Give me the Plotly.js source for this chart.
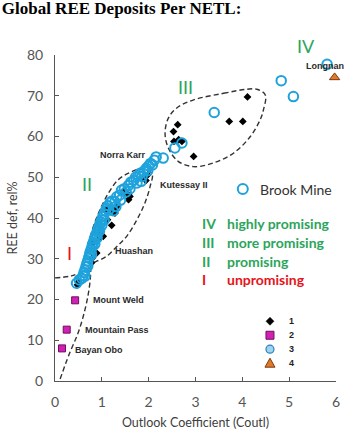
<!DOCTYPE html>
<html><head><meta charset="utf-8">
<script src="https://cdn.plot.ly/plotly-3.0.1.min.js"></script>
<style>html,body{margin:0;padding:0;background:#fff}#chart{width:351px;height:431px}</style>
</head><body><div id="chart"></div>
<script>
// ---- Data ----
const type1X = [0.48,0.50,0.78,0.80,0.89,0.82,0.92,1.03,0.98,1.21,1.12,1.28,1.10,1.25,1.14,1.32,1.57,1.60,1.57,1.50,1.89,1.94,1.98,
                2.62,2.53,2.64,2.54,2.71,2.96,3.72,4.01,4.11];
const type1Y = [23.6,24.3,29.0,30.2,31.4,33.9,34.6,35.5,37.0,38.2,39.6,41.2,41.6,41.8,42.5,42.8,44.5,45.3,45.7,46.6,49.8,49.2,50.6,
                62.9,61.2,59.2,58.8,58.8,55.1,63.7,63.7,69.7];

const type2X = [0.15,0.25,0.43];
const type2Y = [8.0,12.6,19.8];

const type3X = [0.46,0.52,0.57,0.60,0.62,0.64,0.66,0.68,0.70,0.72,0.74,0.75,0.77,0.79,0.80,0.82,0.84,0.86,0.88,0.90,
                0.92,0.94,0.96,0.98,1.00,1.02,1.05,1.08,1.10,1.13,0.85,0.90,0.95,1.00,0.78,0.70,1.05,1.15,1.18,1.22,
                1.28,1.32,1.38,1.42,1.48,1.52,1.57,1.62,1.68,1.72,1.78,1.82,1.86,1.90,1.95,2.00,2.04,2.08,2.12,2.16,
                2.31,1.24,1.30,1.40,1.60,1.75,1.84,1.98,0.64,
                2.56,2.71,3.40,4.83,5.09,5.81];
const type3Y = [24.0,24.8,25.2,25.8,26.6,27.2,28.0,28.8,29.5,30.3,31.0,31.6,32.2,32.8,33.5,34.0,34.8,35.4,36.0,36.6,
                37.2,37.9,38.5,39.0,39.6,40.3,41.0,41.8,42.4,43.0,33.6,35.2,36.8,38.2,31.0,28.2,39.5,42.0,43.8,44.2,
                44.0,45.2,45.6,46.8,47.2,46.4,48.0,48.8,49.2,50.0,50.4,51.0,50.2,51.5,52.2,52.8,53.4,53.0,54.2,55.0,
                54.7,41.8,42.8,44.4,47.2,48.6,49.0,51.6,25.7,
                57.2,58.4,65.9,73.7,69.8,77.7];

const type4X = [5.97];
const type4Y = [74.5];

// dashed group outlines (data units)
const groupIIIx = [2.96,3.60,4.10,4.31,4.49,4.45,4.38,4.17,3.81,3.38,2.96,2.63,2.42,2.35,2.42,2.60,2.96];
const groupIIIy = [69.0,70.6,71.6,71.6,70.2,66.5,64.1,60.0,55.9,53.5,52.6,53.9,57.2,60.8,64.5,67.0,69.0];
const groupIIx = [0.64,0.71,0.82,0.96,1.14,1.35,1.57,1.82,2.07,2.03,1.92,1.75,1.53,1.32,1.10,0.89,0.75,0.64];
const groupIIy = [29.8,33.5,37.9,42.0,46.1,49.4,51.0,52.0,51.0,47.7,43.7,39.6,35.5,33.0,30.6,29.4,28.8,29.8];
const groupIAx = [0.0,0.35,0.70];
const groupIAy = [25.3,25.8,27.3];
const groupIBx = [0.11,0.30,0.50,0.64,0.72,0.76,0.76];
const groupIBy = [0.5,6.5,12.0,17.5,22.0,26.0,28.8];

// named deposits
const depNames = ['Norra Karr','Kutessay II','Huashan','Mount Weld','Mountain Pass','Bayan Obo','Longnan'];
const depX = [1.99,2.19,1.23,0.76,0.60,0.38,5.76];
const depY = [55.5,48.2,31.8,19.8,12.6,7.7,77.2];
const depAnchor = ['right','left','left','left','left','left','center'];

const xTicks = [0,1,2,3,4,5,6];
const yTicks = [0,10,20,30,40,50,60,70,80];

const groupLabels = ['IV','III','II','I'];
const groupLabelX = [5.36,2.78,0.68,0.32];
const groupLabelY = [82.1,72.1,48.4,31.5];
const groupDesc = ['highly promising','more promising','promising','unpromising'];
const legendNames = ['1','2','3','4'];

// ---- styles ----
const GREEN = '#2ca55b', RED = '#e5131b', CYAN = '#1ea2dc';
const outline = (x,y) => ({x, y, mode:'lines', type:'scatter', hoverinfo:'skip', showlegend:false,
  line:{shape:'spline', smoothing:1, dash:'5px,3px', color:'#333', width:1.4}});

const traces = [
  outline(groupIIIx, groupIIIy), outline(groupIIx, groupIIy), outline(groupIAx, groupIAy), outline(groupIBx, groupIBy),
  {x:type1X, y:type1Y, name:'1', mode:'markers', type:'scatter', cliponaxis:false,
   marker:{symbol:'diamond', size:6, color:'#000'}},
  {x:type3X, y:type3Y, name:'3', mode:'markers', type:'scatter', cliponaxis:false,
   marker:{symbol:'circle-open', size:9.5, color:CYAN, line:{width:2, color:CYAN}}},
  {x:type2X, y:type2Y, name:'2', mode:'markers', type:'scatter', cliponaxis:false,
   marker:{symbol:'square', size:7, color:'#d21fb4', line:{width:1, color:'#6a1060'}}},
  {x:type4X, y:type4Y, name:'4', mode:'markers', type:'scatter', cliponaxis:false,
   marker:{symbol:'triangle-up', size:9, color:'#e07a2a', line:{width:1, color:'#7a3a10'}}}
];

const annotations = [];
depNames.forEach((n,i) => annotations.push({x:depX[i], y:depY[i], text:n, showarrow:false, xanchor:depAnchor[i], yanchor:'middle',
  font:{family:'Liberation Sans, Arial', size:9, weight:'bold', color:'#2a2a2a'}}));
groupLabels.forEach((g,i) => {
  const a = {x:groupLabelX[i], y:groupLabelY[i], text:g, showarrow:false,
    xanchor:'center', yanchor:'middle', font:{family:'Lato', size:18, color: i===3?RED:GREEN}};
  if (groupLabelY[i] > 80) { a.yref = 'paper'; a.y = groupLabelY[i] / 80; }
  annotations.push(a);
});
// key block on right
const keyY = [38.6,34.0,29.4,25.0];
groupLabels.forEach((g,i) => {
  const c = i===3?RED:GREEN;
  annotations.push({x:3.10, y:keyY[i], text:g, showarrow:false, xanchor:'left', yanchor:'middle',
    font:{family:'Lato', size:14, weight:'bold', color:c}});
  annotations.push({x:3.63, y:keyY[i], text:groupDesc[i], showarrow:false, xanchor:'left', yanchor:'middle',
    font:{family:'Lato', size:14, weight:'bold', color:c}});
});
annotations.push({x:4.34, y:47.1, text:'Brook Mine', showarrow:false, xanchor:'left', yanchor:'middle',
  font:{family:'Lato', size:14, color:'#333'}});
// small legend labels
const legY = [14.66,11.23,7.8,4.37];
legendNames.forEach((n,i) => annotations.push({x:4.95, y:legY[i], text:n, showarrow:false, xanchor:'left', yanchor:'middle',
  font:{family:'Liberation Sans, Arial', size:9, weight:'bold', color:'#222'}}));

const lx = 4.59;
const shapes = [
  {type:'circle', xref:'x', yref:'y', xsizemode:'pixel', ysizemode:'pixel', xanchor:4.01, yanchor:47.1,
   x0:-5, x1:5, y0:-5, y1:5, line:{color:CYAN, width:2}},
  {type:'path', xref:'x', yref:'y', xsizemode:'pixel', ysizemode:'pixel', xanchor:lx, yanchor:legY[0],
   path:'M 0 -4 L 4 0 L 0 4 L -4 0 Z', fillcolor:'#000', line:{color:'#000', width:0.5}},
  {type:'rect', xref:'x', yref:'y', xsizemode:'pixel', ysizemode:'pixel', xanchor:lx, yanchor:legY[1],
   x0:-4, x1:4, y0:-4, y1:4, fillcolor:'#d21fb4', line:{color:'#6a1060', width:1}},
  {type:'circle', xref:'x', yref:'y', xsizemode:'pixel', ysizemode:'pixel', xanchor:lx, yanchor:legY[2],
   x0:-4, x1:4, y0:-4, y1:4, fillcolor:'#9fd3ee', line:{color:'#2a7fc0', width:1.2}},
  {type:'path', xref:'x', yref:'y', xsizemode:'pixel', ysizemode:'pixel', xanchor:lx, yanchor:legY[3],
   path:'M -5 -4 L 5 -4 L 0 5 Z', fillcolor:'#e07a2a', line:{color:'#7a3a10', width:1}}
];

const axisFont = {family:'Lato', size:14, color:'#555'};
const layout = {
  width:351, height:431, margin:{l:55, r:15, t:55, b:50},
  paper_bgcolor:'#fff', plot_bgcolor:'#fff', showlegend:false,
  title:{text:'<b>Global REE Deposits Per NETL:</b>', x:0.005, xref:'container', xanchor:'left',
         y:1-2/431, yref:'container', yanchor:'top', font:{family:'Liberation Serif', size:17, color:'#000'}},
  xaxis:{range:[0,6], tickvals:xTicks, ticks:'inside', ticklen:4, tickcolor:'#555', showline:true, linecolor:'#555', linewidth:1,
         showgrid:false, zeroline:false, tickfont:axisFont, ticklabelstandoff:8,
         title:{text:'Outlook Coefficient (Coutl)', font:{family:'Lato', size:12.5, color:'#404040'}, standoff:9}},
  yaxis:{range:[0,80], tickvals:yTicks, ticks:'inside', ticklen:4, tickcolor:'#555', showline:true, linecolor:'#555', linewidth:1,
         showgrid:false, zeroline:false, tickfont:axisFont, ticklabelstandoff:8,
         title:{text:'REE def, rel%', font:{family:'Lato', size:12.5, color:'#404040'}, standoff:6}},
  annotations, shapes
};
Plotly.newPlot('chart', traces, layout, {displayModeBar:false, staticPlot:true});
</script></body></html>
